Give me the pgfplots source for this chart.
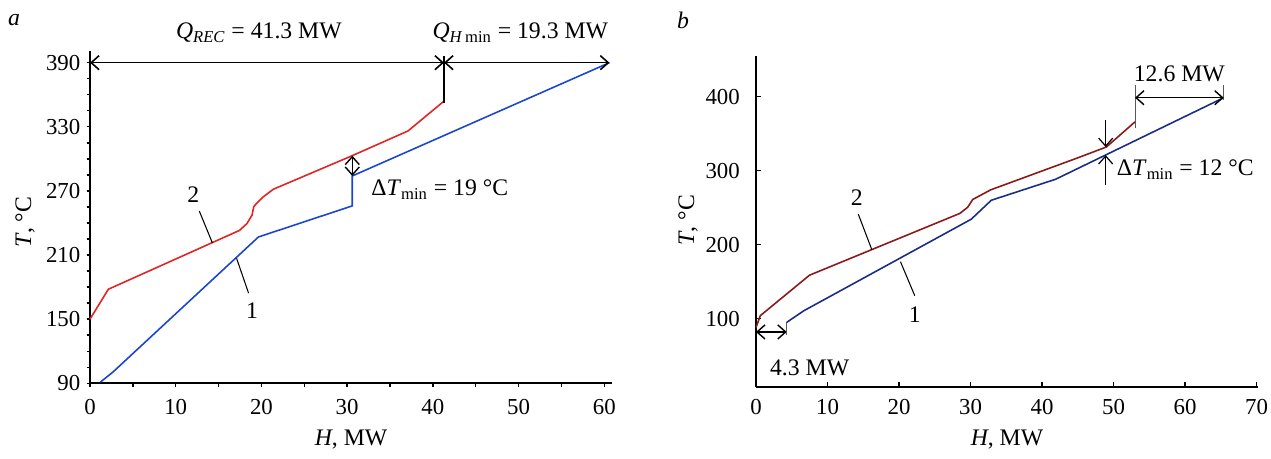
\documentclass[border=0pt]{standalone}
\usepackage{fontspec}
\setmainfont{Liberation Serif}
\usepackage{pgfplots}
\pgfplotsset{compat=1.18}
\usetikzlibrary{arrows.meta}
\definecolor{hotA}{RGB}{225,35,35}
\definecolor{coldA}{RGB}{25,70,205}
\definecolor{hotB}{RGB}{140,25,25}
\definecolor{coldB}{RGB}{25,45,135}

\begin{document}
\begin{tikzpicture}[>={Straight Barb[length=4.5pt,width=8pt]},font=\fontsize{13.5}{15}\selectfont]
\useasboundingbox (0,0) rectangle (25.42,9.18);
\pgfplotsset{every axis/.append style={scale only axis,axis lines=left,
  axis line style={line width=1.1pt,-},clip=false,
  /pgf/number format/assume math mode=true,
  tick style={black,line width=0.8pt},
  xticklabel style={font=\fontsize{13}{15}\selectfont},
  yticklabel style={font=\fontsize{13}{15}\selectfont}}}

% panel a
\begin{axis}[at={(1.80cm,1.514cm)},anchor=south west,width=10.44cm,height=6.652cm,
  xmin=0,xmax=60.9,ymin=90,ymax=401.2,
  xtick={0,10,...,60},minor xtick={5,15,...,55},
  ytick={90,150,...,390},minor ytick={90,105,...,390},
  tick align=outside,major tick length=0.07cm,minor tick length=0.07cm,
  xticklabel style={yshift=-0.12cm},
  xlabel={\textit{H}, MW},ylabel={\textit{T}, °C},
  x label style={at={(axis description cs:0.5,-0.17)},anchor=center},
  y label style={at={(axis description cs:-0.1245,0.485)},anchor=center}]
\addplot[hotA,line width=0.9pt] coordinates {(0,150) (2.14,178) (17.43,233) (18.3,239.4) (18.9,247.2) (19.1,255) (19.3,257.2) (20.2,264.4) (21.4,271.6) (30.6,303) (37.1,326.1) (41.3,354)};
\addplot[coldA,line width=0.9pt] coordinates {(1.2,91) (2.7,100.7) (19.65,226.9) (30.6,256) (30.6,284) (60.6,390)};
\draw[<->,line width=0.9pt] (axis cs:0,390) -- (axis cs:41.3,390);
\draw[<->,line width=0.9pt] (axis cs:41.3,390) -- (axis cs:60.6,390);
\draw[line width=1pt] (axis cs:41.3,396) -- (axis cs:41.3,352);
\draw[<->,line width=0.8pt] (axis cs:30.6,284) -- (axis cs:30.6,303);
\draw[line width=0.6pt] (axis cs:12.75,251.2) -- (axis cs:14.27,221.5);
\draw[line width=0.6pt] (axis cs:17.1,207) -- (axis cs:18.5,174.3);
\node at (axis cs:12.05,266.8) {2};
\node at (axis cs:18.9,157.5) {1};
\node[anchor=west] at (axis cs:32.1,271.5) {Δ\textit{T}\textsubscript{min} = 19 °C};
\node at (axis cs:19.7,418) {\textit{Q}\textsubscript{\textit{REC}} = 41.3 MW};
\node at (axis cs:50.2,418) {\textit{Q}\textsubscript{\textit{H}\,min} = 19.3 MW};
\end{axis}

% panel b
\begin{axis}[at={(15.12cm,1.446cm)},anchor=south west,width=10.04cm,height=6.614cm,
  xmin=0,xmax=70.2,ymin=8,ymax=455,
  xtick={0,10,...,70},ytick={100,200,300,400},
  tick align=inside,major tick length=0.1cm,
  xticklabel style={yshift=-0.12cm},yticklabel style={xshift=-0.2cm},
  xlabel={\textit{H}, MW},ylabel={\textit{T}, °C},
  x label style={at={(axis description cs:0.5,-0.161)},anchor=center},
  y label style={at={(axis description cs:-0.1355,0.504)},anchor=center}]
\addplot[hotB,line width=0.9pt] coordinates {(0,88) (0.6,104) (7.48,158.7) (28.5,242.2) (29.6,250.5) (30.3,261) (32.8,274) (44.9,317) (49.0,332) (53.0,366)};
\addplot[coldB,line width=0.9pt] coordinates {(4.3,95) (6.66,110.5) (30.1,234.4) (32.9,260) (41.9,288.4) (65.4,398.6)};
\draw[->,line width=0.7pt] (axis cs:48.9,368) -- (axis cs:48.9,332);
\draw[->,line width=0.7pt] (axis cs:48.9,281) -- (axis cs:48.9,321);
\node[anchor=west] at (axis cs:49.6,301) {Δ\textit{T}\textsubscript{min} = 12 °C};
\draw[gray!70!black,line width=0.5pt] (axis cs:53,357) -- (axis cs:53,416);
\draw[gray!70!black,line width=0.5pt] (axis cs:65.4,396) -- (axis cs:65.4,416);
\draw[<->,line width=0.8pt] (axis cs:53,398.6) -- (axis cs:65.4,398.6);
\node at (axis cs:59.2,431) {12.6 MW};
\draw[<->,line width=0.8pt] (axis cs:0,82) -- (axis cs:4.3,82);
\draw[gray!70!black,line width=0.5pt] (axis cs:4.3,78) -- (axis cs:4.3,96);
\node[anchor=west] at (axis cs:1.1,34) {4.3 MW};
\draw[line width=0.6pt] (axis cs:14.3,241.3) -- (axis cs:16.2,193.1);
\draw[line width=0.6pt] (axis cs:20.2,177) -- (axis cs:22.2,131);
\node at (axis cs:14.1,264) {2};
\node at (axis cs:22.2,106) {1};
\end{axis}

\node[font=\fontsize{13.5}{15}\selectfont\itshape] at (0.28,8.78) {a};
\node[font=\fontsize{13.5}{15}\selectfont\itshape] at (13.66,8.78) {b};
\end{tikzpicture}
\end{document}
